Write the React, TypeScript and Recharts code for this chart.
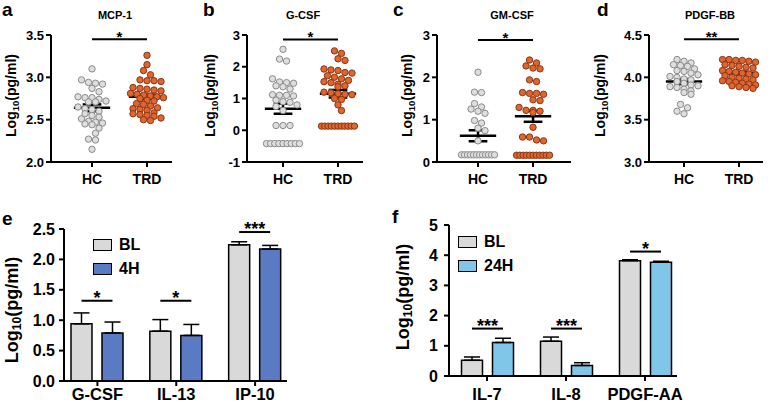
import React from "react";
import {
  Bar,
  BarChart,
  ErrorBar,
  LabelList,
  Legend,
  ReferenceLine,
  Scatter,
  ScatterChart,
  XAxis,
  YAxis,
} from "recharts";

const FONT = "'Liberation Sans', Arial, Helvetica, sans-serif";

// ---- panels a-d : individual values (log10 pg/ml) ----
const groups = ["HC", "TRD"];

const mcpHC = [3.1, 2.97, 2.94, 2.93, 2.92, 2.87, 2.83, 2.77, 2.76, 2.76, 2.74, 2.72, 2.71, 2.71, 2.65, 2.63, 2.62, 2.6, 2.57, 2.55, 2.53, 2.51, 2.48, 2.47, 2.46, 2.45, 2.44, 2.4, 2.34, 2.27, 2.26, 2.15];
const mcpTRD = [3.26, 3.15, 3.08, 3.03, 2.97, 2.96, 2.96, 2.95, 2.88, 2.87, 2.86, 2.85, 2.84, 2.81, 2.8, 2.79, 2.78, 2.77, 2.76, 2.75, 2.73, 2.72, 2.69, 2.68, 2.66, 2.64, 2.63, 2.62, 2.61, 2.58, 2.57, 2.56, 2.55, 2.54, 2.52, 2.5, 2.49];

const gcsfHC = [2.55, 2.24, 2.18, 1.62, 1.52, 1.5, 1.48, 1.4, 1.37, 1.3, 1.12, 1.1, 1.1, 1.08, 0.95, 0.9, 0.88, 0.8, 0.75, 0.62, 0.15, 0.15, 0.15, -0.42, -0.42, -0.42, -0.42, -0.42, -0.42, -0.42, -0.42, -0.42];
const gcsfTRD = [2.5, 2.42, 2.25, 2.2, 1.93, 1.9, 1.88, 1.82, 1.8, 1.72, 1.67, 1.62, 1.57, 1.53, 1.5, 1.45, 1.4, 1.37, 1.2, 1.18, 1.15, 1.13, 1.12, 1.0, 0.97, 0.8, 0.62, 0.13, 0.13, 0.13, 0.13, 0.13, 0.13, 0.13, 0.13, 0.13, 0.13, 0.13];

const gmHC = [2.12, 1.65, 1.64, 1.38, 1.3, 1.25, 1.2, 1.15, 0.98, 0.92, 0.8, 0.74, 0.5, 0.17, 0.17, 0.17, 0.17, 0.17, 0.17, 0.17, 0.17, 0.17, 0.17, 0.17, 0.17];
const gmTRD = [2.41, 2.34, 2.27, 2.22, 2.2, 1.94, 1.9, 1.64, 1.62, 1.62, 1.6, 1.47, 1.45, 1.29, 1.22, 1.22, 1.2, 1.17, 0.82, 0.59, 0.59, 0.52, 0.5, 0.16, 0.16, 0.16, 0.16, 0.16, 0.16, 0.16, 0.16, 0.16, 0.16, 0.16];

const pdgfHC = [4.21, 4.19, 4.17, 4.15, 4.14, 4.13, 4.1, 4.08, 4.07, 4.05, 4.03, 4.01, 4.0, 3.98, 3.97, 3.95, 3.93, 3.91, 3.9, 3.89, 3.88, 3.86, 3.84, 3.82, 3.8, 3.68, 3.64, 3.6, 3.57];
const pdgfTRD = [4.21, 4.21, 4.2, 4.2, 4.19, 4.18, 4.15, 4.14, 4.13, 4.12, 4.11, 4.08, 4.07, 4.06, 4.05, 4.04, 4.03, 4.02, 4.0, 3.99, 3.98, 3.97, 3.96, 3.95, 3.94, 3.93, 3.92, 3.91, 3.9, 3.89, 3.88, 3.87];

// mean and SEM, [HC, TRD]
const mcpMean = [2.64, 2.77];
const mcpSem = [0.04, 0.025];
const gcsfMean = [0.68, 1.15];
const gcsfSem = [0.16, 0.12];
const gmMean = [0.62, 1.08];
const gmSem = [0.13, 0.13];
const pdgfMean = [3.95, 4.05];
const pdgfSem = [0.03, 0.015];

// ---- panels e, f : bar means with error ----
const eCats = ["G-CSF", "IL-13", "IP-10"];
const eBL = [0.94, 0.82, 2.24];
const eBLErr = [0.18, 0.19, 0.05];
const e4H = [0.79, 0.75, 2.17];
const e4HErr = [0.18, 0.18, 0.06];
const eSig = [1.32, 1.32, 2.45];
const eStars = ["*", "*", "***"];

const fCats = ["IL-7", "IL-8", "PDGF-AA"];
const fBL = [0.52, 1.15, 3.82];
const fBLErr = [0.11, 0.14, 0.03];
const f24H = [1.11, 0.35, 3.77];
const f24HErr = [0.14, 0.09, 0.03];
const fSig = [1.57, 1.57, 4.12];
const fStars = ["***", "***", "*"];

const PLOT_H = 127;
const ROW_PX = 5;
const STEP_PX = 7;
const MAX_ROW_PX = 33;
const MEAN_HALF = 0.33;
const CAP_HALF = 0.17;

// prism-like row layout of dots
function swarm(values: number[], center: number, yPx: number, xPx: number) {
  const sorted = [...values].sort((a, b) => b - a);
  const rows: number[][] = [];
  for (const v of sorted) {
    const row = rows[rows.length - 1];
    if (row && (row[0] - v) * yPx < ROW_PX) row.push(v);
    else rows.push([v]);
  }
  const out: { x: number; y: number }[] = [];
  let prevTop = Infinity;
  let prevN = -1;
  let flip = 1;
  rows.forEach((row) => {
    const n = row.length;
    const step = n > 1 ? Math.min(STEP_PX, MAX_ROW_PX / (n - 1)) : STEP_PX;
    let shift = 0;
    if ((prevTop - row[0]) * yPx < 7.5 && n % 2 === prevN % 2 && n < 5) {
      shift = (flip * step) / 2;
      flip = -flip;
    }
    row.forEach((v, i) => {
      out.push({ x: center + ((i - (n - 1) / 2) * step + shift) / xPx, y: v });
    });
    prevTop = row[n - 1];
    prevN = n;
  });
  return out;
}

const yLabel = (cx: number, cy: number, fs: number) => ({
  content: () => (
    <text
      x={cx}
      y={cy}
      transform={`rotate(-90 ${cx} ${cy})`}
      textAnchor="middle"
      dominantBaseline="central"
      fontFamily={FONT}
      fontWeight="bold"
      fontSize={fs}
      fill="#000"
    >
      Log
      <tspan fontSize={fs * 0.68} dy={fs * 0.25}>
        10
      </tspan>
      <tspan dy={-fs * 0.25}>(pg/ml)</tspan>
    </text>
  ),
});

const axisStyle = { stroke: "#000", strokeWidth: 2 };

type ScatterProps = {
  left: number;
  width: number;
  yW: number;
  right: number;
  xDomain: [number, number];
  yDomain: [number, number];
  yTicks: number[];
  digits: number;
  hc: number[];
  trd: number[];
  mean: number[];
  sem: number[];
  sig: number;
  stars: string;
  labelX: number;
};

const ScatterPanel = (p: ScatterProps) => {
  const plotW = p.width - p.yW - p.right;
  const xPx = plotW / (p.xDomain[1] - p.xDomain[0]);
  const yPx = PLOT_H / (p.yDomain[1] - p.yDomain[0]);
  const hcPts = swarm(p.hc, 1, yPx, xPx);
  const trdPts = swarm(p.trd, 2, yPx, xPx);
  const lines: React.ReactNode[] = [];
  [0, 1].forEach((g) => {
    const c = g + 1;
    const m = p.mean[g];
    const s = p.sem[g];
    const st = { stroke: "#000", strokeWidth: 2.5 };
    lines.push(
      <ReferenceLine key={`m${g}`} segment={[{ x: c - MEAN_HALF, y: m }, { x: c + MEAN_HALF, y: m }]} {...st} />,
      <ReferenceLine key={`v${g}`} segment={[{ x: c, y: m - s }, { x: c, y: m + s }]} {...st} />,
      <ReferenceLine key={`l${g}`} segment={[{ x: c - CAP_HALF, y: m - s }, { x: c + CAP_HALF, y: m - s }]} {...st} />,
      <ReferenceLine key={`u${g}`} segment={[{ x: c - CAP_HALF, y: m + s }, { x: c + CAP_HALF, y: m + s }]} {...st} />
    );
  });
  return (
    <div style={{ position: "absolute", left: p.left, top: 0 }}>
      <ScatterChart
        width={p.width}
        height={205}
        margin={{ top: 35, right: p.right, bottom: 0, left: 0 }}
        style={{ overflow: "visible" }}
      >
        <XAxis
          type="number"
          dataKey="x"
          domain={p.xDomain}
          ticks={[1, 2]}
          interval={0}
          tickFormatter={(v: number) => groups[Math.round(v) - 1]}
          height={43}
          tickSize={5}
          tickMargin={7}
          axisLine={axisStyle}
          tickLine={axisStyle}
          tick={{ fill: "#000", fontSize: 14, fontWeight: "bold", fontFamily: FONT }}
        />
        <YAxis
          type="number"
          dataKey="y"
          domain={p.yDomain}
          ticks={p.yTicks}
          interval={0}
          tickFormatter={(v: number) => v.toFixed(p.digits)}
          width={p.yW}
          tickSize={5}
          tickMargin={2}
          axisLine={axisStyle}
          tickLine={axisStyle}
          tick={{ fill: "#000", fontSize: 13, fontWeight: "bold", fontFamily: FONT }}
          label={yLabel(p.labelX, 35 + PLOT_H / 2 - 3, 14)}
        />
        <Scatter
          data={hcPts}
          isAnimationActive={false}
          shape={(s: any) => (
            <circle cx={s.cx} cy={s.cy} r={3.2} fill="#dedede" stroke="#8a8a8a" strokeWidth={1} />
          )}
        />
        <Scatter
          data={trdPts}
          isAnimationActive={false}
          shape={(s: any) => (
            <circle cx={s.cx} cy={s.cy} r={3.2} fill="#df6630" stroke="#8a3614" strokeWidth={1} />
          )}
        />
        {lines}
        <ReferenceLine
          segment={[{ x: 1, y: p.sig }, { x: 2, y: p.sig }]}
          stroke="#000"
          strokeWidth={2}
          ifOverflow="visible"
        />
        <Scatter
          data={[{ x: 1.5, y: p.sig }]}
          isAnimationActive={false}
          shape={(s: any) => (
            <text x={s.cx} y={s.cy + 3} textAnchor="middle" fontSize={15} fontWeight="bold" fontFamily={FONT} fill="#000">
              {p.stars}
            </text>
          )}
        />
      </ScatterChart>
    </div>
  );
};

const sigLabel = (levels: number[], stars: string[], gap: number, fs: number) => (props: any) => {
  const vb = props.viewBox ?? props;
  const x = Number(vb.x ?? props.x);
  const y = Number(vb.y ?? props.y);
  const w = Number(vb.width ?? props.width);
  const h = Number(vb.height ?? props.height);
  const value = Number(props.value);
  const i = props.index;
  if (!value || !h) return null;
  const ys = y + h - levels[i] * (h / value);
  const x1 = x + w / 2;
  const x2 = x1 + w + gap;
  return (
    <g key={`sig${i}`}>
      <line x1={x1} x2={x2} y1={ys} y2={ys} stroke="#000" strokeWidth={2} />
      <text x={(x1 + x2) / 2} y={ys + 3} textAnchor="middle" fontSize={fs} fontWeight="bold" fontFamily={FONT} fill="#000">
        {stars[i]}
      </text>
    </g>
  );
};

const legendOrder = ["BL", "4H", "24H"];

const legendBox = (props: any) => {
  const items = [...(props.payload || [])].sort(
    (a: any, b: any) => legendOrder.indexOf(a.value) - legendOrder.indexOf(b.value)
  );
  return (
    <div style={{ fontFamily: FONT, fontWeight: "bold", fontSize: 16 }}>
      {items.map((it: any) => (
        <div key={it.value} style={{ display: "flex", alignItems: "center", height: 24 }}>
          <span
            style={{
              display: "inline-block",
              width: 17,
              height: 10,
              background: it.payload?.fill ?? it.color,
              border: "1.5px solid #000",
              marginRight: 7,
            }}
          />
          {it.value}
        </div>
      ))}
    </div>
  );
};

type BarProps = {
  left: number;
  width: number;
  top: number;
  yW: number;
  right: number;
  xH: number;
  pad: { left: number; right: number };
  cats: string[];
  bl: number[];
  blErr: number[];
  tr: number[];
  trErr: number[];
  trName: string;
  trColor: string;
  sig: number[];
  stars: string[];
  yMax: number;
  yTicks: number[];
  digits: number;
  labelX: number;
  labelY: number;
  legendPos: { left: number; top: number };
  catMargin: number;
  tickGap: number;
};

const BarPanel = (p: BarProps) => {
  const rows = p.cats.map((name, i) => ({
    name,
    bl: p.bl[i],
    blErr: [0, p.blErr[i]],
    tr: p.tr[i],
    trErr: [0, p.trErr[i]],
  }));
  return (
    <div style={{ position: "absolute", left: p.left, top: 205 }}>
      <BarChart
        width={p.width}
        height={200}
        data={rows}
        margin={{ top: p.top, right: p.right, bottom: 0, left: 0 }}
        barSize={21}
        barGap={10}
        style={{ overflow: "visible" }}
      >
        <XAxis
          dataKey="name"
          padding={p.pad}
          interval={0}
          height={p.xH}
          tickSize={5}
          tickMargin={p.catMargin}
          axisLine={axisStyle}
          tickLine={axisStyle}
          tick={{ fill: "#000", fontSize: 16.5, fontWeight: "bold", fontFamily: FONT }}
        />
        <YAxis
          type="number"
          domain={[0, p.yMax]}
          ticks={p.yTicks}
          interval={0}
          tickFormatter={(v: number) => v.toFixed(p.digits)}
          width={p.yW}
          tickSize={5}
          tickMargin={p.tickGap}
          axisLine={axisStyle}
          tickLine={axisStyle}
          tick={{ fill: "#000", fontSize: 16, fontWeight: "bold", fontFamily: FONT }}
          label={yLabel(p.labelX, p.labelY, 18)}
        />
        <Legend
          layout="horizontal"
          verticalAlign="middle"
          align="center"
          content={legendBox}
          wrapperStyle={{ left: p.legendPos.left, top: p.legendPos.top, width: "auto" }}
        />
        <Bar dataKey="bl" name="BL" fill="#d9d9d9" stroke="#000" strokeWidth={1.5} isAnimationActive={false}>
          <ErrorBar dataKey="blErr" direction="y" width={8} stroke="#000" strokeWidth={1.5} />
          <LabelList dataKey="bl" content={sigLabel(p.sig, p.stars, 10, 18)} />
        </Bar>
        <Bar dataKey="tr" name={p.trName} fill={p.trColor} stroke="#000" strokeWidth={1.5} isAnimationActive={false}>
          <ErrorBar dataKey="trErr" direction="y" width={8} stroke="#000" strokeWidth={1.5} />
        </Bar>
      </BarChart>
    </div>
  );
};

const txt = (s: string, left: number, top: number, size: number, center = false) => (
  <div
    style={{
      position: "absolute",
      left,
      top,
      fontFamily: FONT,
      fontWeight: "bold",
      fontSize: size,
      lineHeight: 1,
      whiteSpace: "nowrap",
      transform: center ? "translateX(-50%)" : undefined,
    }}
  >
    {s}
  </div>
);

export default function App() {
  return (
    <div style={{ position: "absolute", left: 0, top: 0, width: 778, height: 405, background: "#fff", overflow: "hidden" }}>
      <ScatterPanel
        left={0} width={195} yW={51} right={23}
        xDomain={[0.2545, 2.4545]} yDomain={[2, 3.5]} yTicks={[2, 2.5, 3, 3.5]} digits={1}
        hc={mcpHC} trd={mcpTRD} mean={mcpMean} sem={mcpSem} sig={3.45} stars="*" labelX={11}
      />
      <ScatterPanel
        left={195} width={190} yW={52} right={22}
        xDomain={[0.345, 2.455]} yDomain={[-1, 3]} yTicks={[-1, 0, 1, 2, 3]} digits={0}
        hc={gcsfHC} trd={gcsfTRD} mean={gcsfMean} sem={gcsfSem} sig={2.86} stars="*" labelX={15}
      />
      <ScatterPanel
        left={385} width={195} yW={52} right={9}
        xDomain={[0.2545, 2.69]} yDomain={[0, 3]} yTicks={[0, 1, 2, 3]} digits={0}
        hc={gmHC} trd={gmTRD} mean={gmMean} sem={gmSem} sig={2.88} stars="*" labelX={22}
      />
      <ScatterPanel
        left={580} width={198} yW={69} right={15}
        xDomain={[0.3636, 2.436]} yDomain={[3, 4.5]} yTicks={[3, 3.5, 4, 4.5]} digits={1}
        hc={pdgfHC} trd={pdgfTRD} mean={pdgfMean} sem={pdgfSem} sig={4.45} stars="**" labelX={20}
      />
      <BarPanel
        left={0} width={390} top={24} yW={64} right={103} xH={24} pad={{ left: -6, right: -7.5 }}
        cats={eCats} bl={eBL} blErr={eBLErr} tr={e4H} trErr={e4HErr} trName="4H" trColor="#5a7bc3"
        sig={eSig} stars={eStars} yMax={2.5} yTicks={[0, 0.5, 1, 1.5, 2, 2.5]} digits={1}
        labelX={12} labelY={105} legendPos={{ left: 93, top: 28 }} catMargin={2} tickGap={4}
      />
      <BarPanel
        left={390} width={388} top={20} yW={59} right={101} xH={29} pad={{ left: -1.5, right: -7.5 }}
        cats={fCats} bl={fBL} blErr={fBLErr} tr={f24H} trErr={f24HErr} trName="24H" trColor="#80c6e9"
        sig={fSig} stars={fStars} yMax={5} yTicks={[0, 1, 2, 3, 4, 5]} digits={0}
        labelX={13} labelY={92} legendPos={{ left: 68, top: 25 }} catMargin={7} tickGap={6}
      />
      {txt("MCP-1", 115, 10, 11, true)}
      {txt("G-CSF", 303, 10, 11, true)}
      {txt("GM-CSF", 512, 10, 11, true)}
      {txt("PDGF-BB", 710, 10, 11, true)}
      {txt("a", 2, 0, 19)}
      {txt("b", 203, 0, 19)}
      {txt("c", 393, 0, 19)}
      {txt("d", 597, 0, 19)}
      {txt("e", 2, 209, 19)}
      {txt("f", 392, 207, 19)}
    </div>
  );
}
